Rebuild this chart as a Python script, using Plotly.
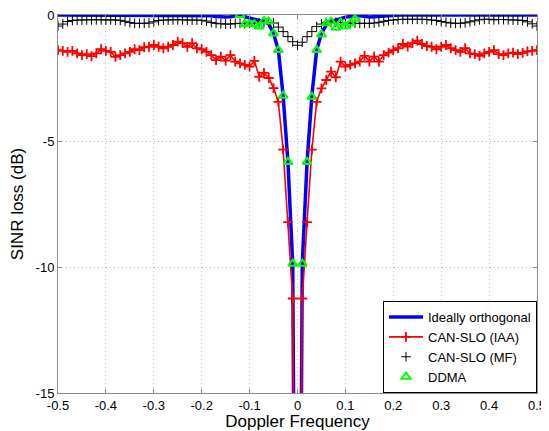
import plotly.graph_objects as go

# Doppler frequency grid (step 0.01)
freq = [round(-0.5 + 0.01 * i, 2) for i in range(101)]

ideal_orth = (
    [0.0] * 31
    + [-0.01, -0.03, -0.06, -0.08, -0.08, -0.07, -0.03, 0.0, -0.07, -0.13,
       -0.18, -0.22, -0.26, -0.36, -0.73, -1.39, -3.2, -5.83, -9.87]
    + [-40.0]
    + [-9.87, -5.83, -3.2, -1.39, -0.73, -0.4, -0.26, -0.2, -0.13, -0.09,
       -0.06, -0.02, -0.03, -0.06, -0.08, -0.07, -0.05, -0.03, -0.01]
    + [0.0] * 31
)

can_slo_iaa = (
    [-1.39, -1.42, -1.46, -1.42, -1.52, -1.59, -1.55, -1.63, -1.52, -1.36,
     -1.42, -1.46, -1.66, -1.59, -1.52, -1.46, -1.36, -1.39, -1.28, -1.26,
     -1.19, -1.26, -1.32, -1.26, -1.19]
    + [-1.06, -1.12, -1.26, -1.12, -1.32, -1.36, -1.46, -1.59, -1.79, -1.65,
       -1.81, -1.59, -1.85, -1.92, -1.98, -2.05, -1.82, -2.45, -2.3, -2.5,
       -2.9, -3.45, -5.34, -8.22, -11.25]
    + [-40.0]
    + [-11.25, -8.22, -5.34, -3.45, -2.91, -2.58, -2.25, -2.47, -1.85, -2.05,
       -1.98, -1.92, -1.85, -1.62, -1.85, -1.65, -1.85, -1.59, -1.49, -1.39,
       -1.32, -1.15, -1.25, -1.12]
    + [-1.02, -1.15, -1.23, -1.26, -1.36, -1.26, -1.19, -1.32, -1.39, -1.46,
       -1.32, -1.52, -1.55, -1.62, -1.52, -1.46, -1.39, -1.55, -1.59, -1.52,
       -1.49, -1.55, -1.5, -1.44, -1.42, -1.39]
)

can_slo_mf = (
    [-0.44, -0.36, -0.26, -0.22, -0.20, -0.20, -0.19, -0.19, -0.19, -0.19,
     -0.20, -0.19, -0.20, -0.21, -0.25, -0.30, -0.33, -0.33, -0.33, -0.32,
     -0.27, -0.22, -0.20, -0.20, -0.19, -0.19, -0.19, -0.20, -0.20, -0.20,
     -0.21, -0.24, -0.30, -0.33, -0.35, -0.36, -0.36, -0.34, -0.33, -0.34,
     -0.33, -0.32, -0.31, -0.30, -0.30, -0.32, -0.48, -0.66, -0.86, -1.06]
    + [-1.2]
    + [-1.08, -0.86, -0.66, -0.46, -0.36, -0.30, -0.29, -0.29, -0.30, -0.31,
       -0.33, -0.33, -0.33, -0.33, -0.33, -0.32, -0.29, -0.25, -0.22, -0.20,
       -0.18, -0.17, -0.17, -0.17, -0.17, -0.17, -0.18, -0.20, -0.22, -0.26,
       -0.29, -0.32, -0.33, -0.33, -0.31, -0.27, -0.23, -0.19, -0.17, -0.17,
       -0.19, -0.18, -0.18, -0.19, -0.20, -0.20, -0.22, -0.27, -0.35, -0.44]
)

ddma_freq = [-0.12, -0.11, -0.10, -0.09, -0.08, -0.07, -0.06, -0.05, -0.04,
             -0.03, -0.02, -0.01, 0.01, 0.02, 0.03, 0.04, 0.05, 0.06, 0.07,
             0.08, 0.09, 0.10, 0.11, 0.12]
ddma = [0.0, -0.36, -0.36, -0.36, -0.46, -0.23, -0.26, -0.73, -1.39, -3.2,
        -5.83, -9.87, -9.87, -5.83, -3.24, -1.39, -0.77, -0.33, -0.26, -0.51,
        -0.3, -0.45, -0.33, -0.15]

xtick_vals = [-0.5, -0.4, -0.3, -0.2, -0.1, 0, 0.1, 0.2, 0.3, 0.4, 0.5]
xtick_text = ["-0.5", "-0.4", "-0.3", "-0.2", "-0.1", "0", "0.1", "0.2", "0.3", "0.4", "0.5"]
ytick_vals = [0, -5, -10, -15]
ytick_text = ["0", "-5", "-10", "-15"]

FONT = "Liberation Sans, Arial, sans-serif"

fig = go.Figure()
fig.add_trace(go.Scatter(x=freq, y=ideal_orth, mode="lines", name="Ideally orthogonal",
                         line=dict(color="#0000ff", width=3.5)))
fig.add_trace(go.Scatter(x=freq, y=can_slo_iaa, mode="lines+markers", name="CAN-SLO (IAA)",
                         line=dict(color="#ff0000", width=1.6),
                         marker=dict(symbol="cross-thin", size=7, color="#ff0000",
                                     line=dict(color="#ff0000", width=1.8))))
fig.add_trace(go.Scatter(x=freq, y=can_slo_mf, mode="markers", name="CAN-SLO (MF)",
                         marker=dict(symbol="cross-thin", size=7, color="#000000",
                                     line=dict(color="#000000", width=1))))
fig.add_trace(go.Scatter(x=ddma_freq, y=ddma, mode="markers", name="DDMA",
                         marker=dict(symbol="triangle-up-open", size=8, color="#00ff00",
                                     line=dict(color="#00ff00", width=2))))

axis_common = dict(
    showgrid=True, gridcolor="#bdbdbd", griddash="1px,3px", gridwidth=1,
    showline=True, linecolor="#8c8c8c", linewidth=1, mirror="ticks",
    ticks="inside", ticklen=4, tickcolor="#8c8c8c", automargin=False,
    ticklabeloverflow="allow",
    zeroline=False, tickfont=dict(family=FONT, size=13, color="#000000"),
)

# The page body adds an 8px margin, so the figure is sized to fit the window.
fig.update_layout(
    width=541, height=423,
    margin=dict(l=50, r=12, t=7, b=38, autoexpand=False),
    paper_bgcolor="white", plot_bgcolor="white",
    font=dict(family=FONT, color="#000000"),
    xaxis=dict(range=[-0.5, 0.5], tickvals=xtick_vals, ticktext=xtick_text,
               title=dict(text="Doppler Frequency", font=dict(family=FONT, size=17)),
               **axis_common),
    yaxis=dict(range=[-15, 0], tickvals=ytick_vals, ticktext=ytick_text,
               title=dict(text="SINR loss (dB)", font=dict(family=FONT, size=17)),
               **axis_common),
    legend=dict(x=1, y=0, xanchor="right", yanchor="bottom",
                bgcolor="white", bordercolor="#000000", borderwidth=1,
                font=dict(family=FONT, size=13), tracegroupgap=0, itemwidth=34),
    showlegend=True,
)

fig.write_html("out.html")
